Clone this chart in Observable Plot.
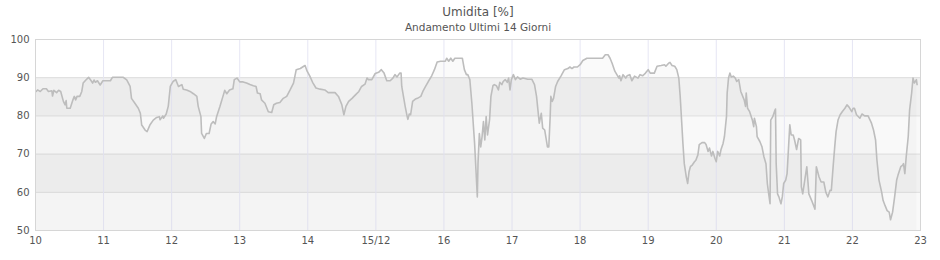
<!DOCTYPE html>
<html><head><meta charset="utf-8">
<script src="https://cdn.jsdelivr.net/npm/d3@7"></script>
<script src="https://cdn.jsdelivr.net/npm/@observablehq/plot@0.6"></script>
<style>
body{margin:0;background:#fff;}
#chart svg{display:block;font-family:"DejaVu Sans",sans-serif;}
</style>
</head><body><div id="chart"></div>
<script>
const title = "Umidita [%]";
const subtitle = "Andamento Ultimi 14 Giorni";
const dayTicks = [10,11,12,13,14,15,16,17,18,19,20,21,22,23];
const dayLabels = ["10","11","12","13","14","15/12","16","17","18","19","20","21","22","23"];
const yTicks = [50,60,70,80,90,100];

// time in days (December), humidity in %
const days = [
10.01,10.03,10.07,10.11,10.16,10.19,10.24,10.25,10.27,10.31,10.34,10.37,10.41,10.435,10.45,10.46,10.51,10.55,10.57,10.59,
10.61,10.65,10.68,10.70,10.74,10.78,10.81,10.84,10.86,10.88,10.91,10.95,10.99,11.10,11.13,11.29,11.34,11.39,11.41,11.46,
11.51,11.54,11.56,11.61,11.64,11.68,11.73,11.78,11.82,11.83,11.87,11.88,11.92,11.95,11.98,12.02,12.06,12.10,12.15,12.17,
12.22,12.27,12.32,12.37,12.39,12.43,12.44,12.48,12.51,12.55,12.58,12.61,12.64,12.66,12.71,12.76,12.78,12.81,12.85,12.90,
12.92,12.96,13.00,13.05,13.10,13.15,13.20,13.24,13.26,13.30,13.32,13.37,13.42,13.47,13.50,13.54,13.59,13.64,13.69,13.74,
13.79,13.83,13.89,13.94,13.96,13.99,14.03,14.07,14.12,14.18,14.25,14.30,14.40,14.45,14.50,14.53,14.56,14.60,14.65,14.70,
14.75,14.79,14.84,14.87,14.89,14.94,14.99,15.04,15.08,15.12,15.16,15.21,15.25,15.28,15.31,15.35,15.37,15.38,15.41,15.43,
15.46,15.47,15.49,15.51,15.54,15.58,15.61,15.66,15.69,15.73,15.77,15.82,15.86,15.90,15.95,16.02,16.04,16.07,16.10,16.13,
16.16,16.27,16.30,16.33,16.35,16.38,16.41,16.43,16.45,16.47,16.49,16.50,16.52,16.54,16.56,16.58,16.60,16.62,16.64,16.67,
16.69,16.72,16.74,16.77,16.80,16.82,16.85,16.87,16.90,16.93,16.95,16.97,16.99,17.02,17.05,17.08,17.12,17.16,17.23,17.29,
17.33,17.36,17.39,17.40,17.43,17.45,17.48,17.50,17.52,17.54,17.56,17.57,17.59,17.61,17.64,17.67,17.72,17.77,17.82,17.85,
17.88,17.91,17.96,18.00,18.04,18.10,18.33,18.37,18.41,18.44,18.47,18.51,18.54,18.57,18.58,18.60,18.63,18.67,18.69,18.73,
18.76,18.80,18.85,18.88,18.92,18.96,19.00,19.03,19.09,19.13,19.19,19.24,19.26,19.30,19.32,19.35,19.39,19.42,19.45,19.47,
19.49,19.51,19.53,19.56,19.58,19.60,19.62,19.65,19.68,19.70,19.73,19.75,19.79,19.83,19.85,19.88,19.90,19.93,19.95,19.98,
20.00,20.02,20.05,20.07,20.10,20.12,20.15,20.16,20.18,20.20,20.22,20.25,20.28,20.30,20.33,20.36,20.38,20.41,20.43,20.44,
20.46,20.49,20.53,20.55,20.56,20.59,20.60,20.64,20.67,20.70,20.73,20.75,20.77,20.79,20.80,20.83,20.86,20.87,20.88,20.90,
20.92,20.95,20.97,20.99,21.02,21.04,21.06,21.08,21.10,21.13,21.15,21.18,21.21,21.24,21.25,21.27,21.30,21.33,21.36,21.40,
21.45,21.47,21.51,21.54,21.58,21.61,21.64,21.67,21.69,21.72,21.74,21.76,21.79,21.82,21.85,21.89,21.92,21.95,21.99,22.01,
22.03,22.06,22.11,22.14,22.18,22.23,22.28,22.31,22.34,22.36,22.39,22.43,22.45,22.48,22.51,22.54,22.56,22.59,22.62,22.65,
22.67,22.71,22.74,22.75,22.77,22.79,22.82,22.84,22.87,22.89,22.91,22.94,22.95
];
const humidity = [
86.4,86.8,86.4,87.1,87.1,86.4,86.6,85.2,86.7,86.1,86.7,86.4,83.8,82.9,84.0,82.0,82.0,84.2,85.1,84.2,
85.1,85.1,86.4,88.6,89.4,90.1,89.4,88.6,89.4,88.8,89.2,88.1,89.2,89.2,90.1,90.1,89.4,87.7,84.6,83.3,
82.0,80.7,77.6,76.3,75.9,77.6,78.9,79.6,79.8,79.0,80.0,79.4,80.5,82.5,87.7,89.0,89.5,87.7,88.2,87.0,
86.8,86.4,85.8,85.1,82.5,79.8,75.4,74.1,75.4,75.4,77.9,78.5,77.9,79.8,82.5,85.5,86.7,85.8,86.8,87.1,
89.5,89.9,88.9,88.9,88.6,88.2,87.9,87.7,86.0,85.8,84.2,83.3,81.1,80.9,82.9,83.3,83.5,84.6,85.1,86.8,
88.6,92.1,92.4,93.0,93.2,91.7,90.4,88.8,87.3,87.0,86.8,86.1,86.1,85.1,82.9,80.3,82.5,83.8,84.6,85.5,
86.4,87.7,88.3,89.9,89.5,89.5,91.1,91.4,92.1,91.2,89.2,89.2,89.9,90.8,90.2,91.2,91.2,87.7,84.6,82.5,
79.8,79.1,80.5,80.3,83.8,84.4,84.6,85.1,86.4,87.7,89.0,90.5,92.1,94.1,94.3,94.3,95.1,94.3,95.1,94.3,
95.1,95.1,92.1,90.8,90.8,89.5,83.3,78.0,72.8,65.8,58.8,67.5,75.4,71.9,74.6,78.5,73.7,79.8,75.0,79.0,
85.1,87.9,88.2,87.9,86.8,88.8,88.2,89.0,89.5,88.8,89.9,86.8,89.5,90.8,89.5,90.2,89.6,89.9,89.6,89.6,
88.2,85.1,79.8,78.1,80.7,76.8,76.3,74.1,71.9,71.9,79.8,85.1,83.8,84.6,87.7,89.0,90.5,92.1,92.4,92.8,
92.4,92.8,92.8,93.4,94.5,95.1,95.1,96.0,96.0,95.1,93.8,91.7,90.8,89.9,90.5,89.2,90.8,89.9,90.5,90.8,
89.2,90.4,89.9,90.8,90.5,91.2,92.1,91.2,91.2,93.0,93.2,93.4,93.0,93.8,94.0,93.2,93.0,92.1,89.9,85.1,
79.0,72.8,67.5,64.0,62.3,65.4,66.7,67.2,68.0,68.4,69.8,72.5,73.0,73.0,72.5,70.7,71.6,69.5,70.7,68.9,
68.0,70.7,69.5,71.2,72.8,74.6,79.8,86.0,89.9,91.2,90.2,90.4,89.9,89.0,89.5,86.4,85.5,84.2,82.5,86.0,
82.0,81.1,78.9,77.2,79.4,77.2,74.6,73.3,72.0,69.3,67.5,62.3,59.6,57.0,78.9,79.8,81.4,81.8,67.5,59.6,
58.8,57.0,58.8,62.3,63.2,64.9,71.2,77.7,75.0,75.0,73.7,71.2,74.1,73.7,61.4,59.6,63.2,66.7,59.6,57.9,
55.6,66.7,64.0,62.7,62.7,60.0,58.8,60.5,60.5,67.5,71.9,75.9,79.0,80.3,81.1,82.0,82.9,82.3,81.1,82.0,
82.0,80.3,79.4,80.5,80.0,80.0,78.1,76.3,73.7,68.4,63.2,60.0,57.9,56.5,55.2,54.8,52.8,54.8,58.8,63.2,
64.5,66.7,67.1,67.5,64.9,69.3,74.6,81.6,86.0,89.9,88.6,89.5,88.2
];

const data = days.map((d, i) => ({day: d, value: humidity[i]}));
const bands = yTicks.slice(0, -1).map((lo, i) => ({lo, hi: yTicks[i + 1], i}));
const x0 = dayTicks[0], x1 = dayTicks[dayTicks.length - 1];

const chart = Plot.plot({
  width: 940,
  height: 260,
  marginLeft: 35,
  marginRight: 20,
  marginTop: 39,
  marginBottom: 30,
  style: {fontFamily: "DejaVu Sans, sans-serif", background: "#fff"},
  x: {domain: [x0, x1], ticks: dayTicks, label: null, tickFormat: (d) => dayLabels[dayTicks.indexOf(d)]},
  y: {domain: [yTicks[0], yTicks[yTicks.length - 1]], ticks: yTicks, label: null},
  marks: [
    Plot.rect(bands, {x1: x0, x2: x1, y1: "lo", y2: "hi",
      fill: (d) => d.i === 4 ? "#ffffff" : (d.i % 2 === 1 ? "#f1f1f1" : "#f9f9f9")}),
    Plot.ruleY(yTicks.slice(1, -1), {stroke: "#dddddd", strokeWidth: 1}),
    Plot.ruleX(dayTicks.slice(1, -1), {stroke: "#e6e6f4", strokeWidth: 1}),
    Plot.areaY(data, {x: "day", y1: yTicks[0], y2: "value", fill: "#000", fillOpacity: 0.018}),
    Plot.line(data, {x: "day", y: "value", stroke: "#bdbdbd", strokeWidth: 1.6}),
    Plot.frame({stroke: "#d6d6d6"}),
    Plot.axisY({ticks: yTicks, tickSize: 0, tickPadding: 6, fontSize: 10, color: "#555", label: null}),
    Plot.axisX({ticks: dayTicks, tickSize: 0, tickPadding: 6, fontSize: 10, color: "#555", label: null,
      tickFormat: (d) => dayLabels[dayTicks.indexOf(d)]}),
    Plot.text([title], {frameAnchor: "top", dy: -32, text: (d) => d, fontSize: 12, fill: "#555"}),
    Plot.text([subtitle], {frameAnchor: "top", dy: -16, text: (d) => d, fontSize: 10.5, fill: "#555"})
  ]
});
document.getElementById("chart").appendChild(chart);
</script>
</body></html>
